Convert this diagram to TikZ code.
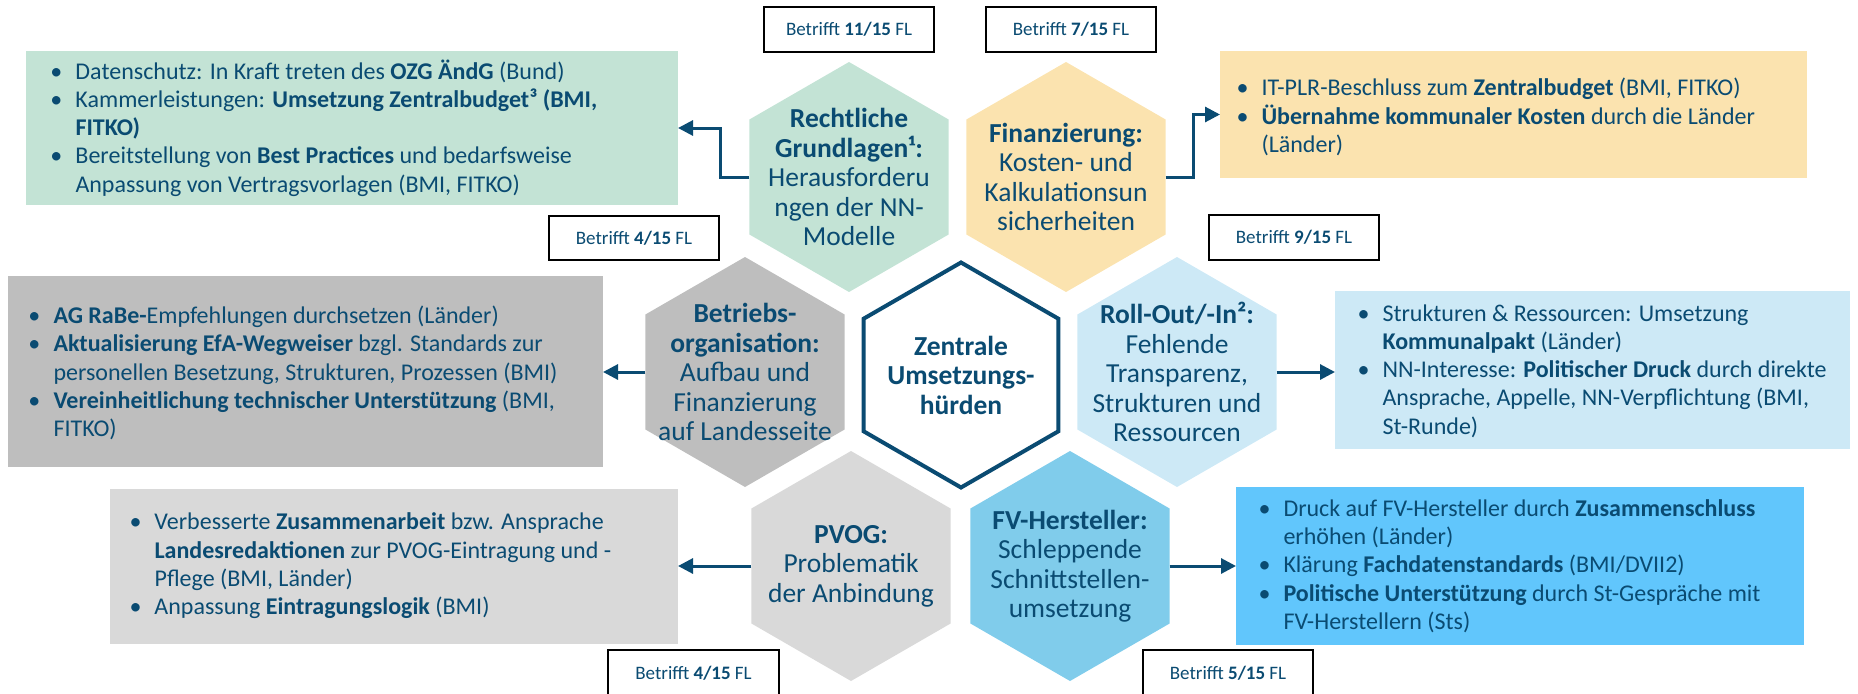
\documentclass[tikz,border=0pt]{standalone}
\usepackage{fontspec}
\setmainfont{Carlito}
\usetikzlibrary{shapes.geometric,arrows.meta,fit,shadows}

\definecolor{ink}{HTML}{0A4B72}
\definecolor{cgreen}{HTML}{C3E3D5}
\definecolor{cyellow}{HTML}{FBE3AF}
\definecolor{cgrayd}{HTML}{BEBEBE}
\definecolor{cgrayl}{HTML}{D9D9D9}
\definecolor{cblueL}{HTML}{CDE9F6}
\definecolor{cblueM}{HTML}{80CCEB}
\definecolor{cblueB}{HTML}{61C6FC}

% bullet with fixed column width, and matching indent for wrapped lines
\newcommand{\bul}{\makebox[10pt][l]{\textbullet}}
\newcommand{\ind}{\hspace*{10pt}}

\begin{document}
\begin{tikzpicture}[x=0.4pt,y=-0.4pt,
  hexa/.style={regular polygon, regular polygon sides=6, shape border rotate=30,
    minimum size=92pt, inner sep=0pt, outer sep=0pt},
  hextext/.style={align=center, text=ink, inner sep=0pt,
    font=\fontsize{11}{11.8}\selectfont},
  panel/.style={inner sep=0pt, outer sep=0pt, draw=none},
  paneltext/.style={anchor=west, align=left, text=ink, inner sep=0pt,
    font=\fontsize{9.6}{11.3}\selectfont},
  tag/.style={draw=black, line width=0.6pt, fill=white, inner sep=0pt, outer sep=0pt,
    drop shadow={shadow xshift=0.5pt, shadow yshift=-0.5pt, fill=black!35, opacity=1}},
  tagtext/.style={text=ink, inner sep=0pt, font=\fontsize{7.6}{9}\selectfont},
  conn/.style={draw=ink, line width=1.2pt, -{Triangle[length=6pt,width=6pt]}}
]
\useasboundingbox (0,0) rectangle (1858,693);
\clip (0,0) rectangle (1858,693);

% ---------- hexagons ----------
\node[hexa, fill=cgreen]  (hR)  at (849,177) {};
\node[hexa, fill=cyellow] (hF)  at (1066,177) {};
\node[hexa, fill=cgrayd]  (hB)  at (745,372) {};
\node[hexa, fill=white, draw=ink, line width=1.6pt, minimum size=90pt] (hC) at (961,375) {};
\node[hexa, fill=cblueL]  (hRo) at (1177,372) {};
\node[hexa, fill=cgrayl]  (hP)  at (851,566) {};
\node[hexa, fill=cblueM]  (hFV) at (1070,566) {};

\node[hextext] (tR) at (hR) {\textbf{Rechtliche}\\\textbf{Grundlagen¹:}\\Herausforderu\\ngen der NN-\\Modelle};
\node[hextext] (tF) at (hF) {\textbf{Finanzierung:}\\Kosten- und\\Kalkulationsun\\sicherheiten};
\node[hextext] (tB) at (hB) {\textbf{Betriebs-}\\\textbf{organisation:}\\Aufbau und\\Finanzierung\\auf Landesseite};
\node[hextext] (tC) at (hC) {\textbf{Zentrale}\\\textbf{Umsetzungs-}\\\textbf{hürden}};
\node[hextext] (tRo) at (hRo) {\textbf{Roll-Out/-In²:}\\Fehlende\\Transparenz,\\Strukturen und\\Ressourcen};
\node[hextext] (tP) at (hP) {\textbf{PVOG:}\\Problematik\\der Anbindung};
\node[hextext] (tFV) at (hFV) {\textbf{FV-Hersteller:}\\Schleppende\\Schnittstellen-\\umsetzung};

% ---------- measure panels ----------
\node[panel, fill=cgreen,  fit={(26,51) (678,205)}]    (pR)  {};
\node[panel, fill=cyellow, fit={(1220,51) (1807,178)}] (pF)  {};
\node[panel, fill=cgrayd,  fit={(8,276) (603,467)}]    (pB)  {};
\node[panel, fill=cblueL,  fit={(1335,291) (1850,449)}] (pRo) {};
\node[panel, fill=cgrayl,  fit={(110,489) (678,644)}]  (pP)  {};
\node[panel, fill=cblueB,  fit={(1236,487) (1804,645)}] (pFV) {};

\node[paneltext] (xR) at (50,128) {%
\bul Datenschutz: In Kraft treten des \textbf{OZG ÄndG} (Bund)\\
\bul Kammerleistungen: \textbf{Umsetzung Zentralbudget³ (BMI,}\\
\ind\textbf{FITKO)}\\
\bul Bereitstellung von \textbf{Best Practices} und bedarfsweise\\
\ind Anpassung von Vertragsvorlagen (BMI, FITKO)};

\node[paneltext] (xF) at (1236,117) {%
\bul IT-PLR-Beschluss zum \textbf{Zentralbudget} (BMI, FITKO)\\
\bul \textbf{Übernahme kommunaler Kosten} durch die Länder\\
\ind (Länder)};

\node[paneltext] (xB) at (28,373) {%
\bul \textbf{AG RaBe-}Empfehlungen durchsetzen (Länder)\\
\bul \textbf{Aktualisierung EfA-Wegweiser} bzgl. Standards zur\\
\ind personellen Besetzung, Strukturen, Prozessen (BMI)\\
\bul \textbf{Vereinheitlichung technischer Unterstützung} (BMI,\\
\ind FITKO)};

\node[paneltext] (xRo) at (1357,371) {%
\bul Strukturen \& Ressourcen: Umsetzung\\
\ind\textbf{Kommunalpakt} (Länder)\\
\bul NN-Interesse: \textbf{Politischer Druck} durch direkte\\
\ind Ansprache, Appelle, NN-Verpflichtung (BMI,\\
\ind St-Runde)};

\node[paneltext] (xP) at (129,566) {%
\bul Verbesserte \textbf{Zusammenarbeit} bzw. Ansprache\\
\ind\textbf{Landesredaktionen} zur PVOG-Eintragung und -\\
\ind Pflege (BMI, Länder)\\
\bul Anpassung \textbf{Eintragungslogik} (BMI)};

\node[paneltext] (xFV) at (1258,566) {%
\bul Druck auf FV-Hersteller durch \textbf{Zusammenschluss}\\
\ind erhöhen (Länder)\\
\bul Klärung \textbf{Fachdatenstandards} (BMI/DVII2)\\
\bul \textbf{Politische Unterstützung} durch St-Gespräche mit\\
\ind FV-Herstellern (Sts)};

% ---------- "Betrifft" tags ----------
\node[tag, fit={(764,7) (934,52)}]    (g1) {};
\node[tag, fit={(986,7) (1156,52)}]   (g2) {};
\node[tag, fit={(549,216) (719,260)}] (g3) {};
\node[tag, fit={(1209,215) (1379,260)}] (g4) {};
\node[tag, fit={(608,650) (779,712)}] (g5) {};
\node[tag, fit={(1143,650) (1313,712)}] (g6) {};

\node[tagtext] (l1) at (g1) {Betrifft \textbf{11/15} FL};
\node[tagtext] (l2) at (g2) {Betrifft \textbf{7/15} FL};
\node[tagtext] (l3) at (g3) {Betrifft \textbf{4/15} FL};
\node[tagtext] (l4) at (g4) {Betrifft \textbf{9/15} FL};
\node[tagtext] (l5) at (693.5,673) {Betrifft \textbf{4/15} FL};
\node[tagtext] (l6) at (1228,673) {Betrifft \textbf{5/15} FL};

% ---------- connectors ----------
\draw[conn] (hR.180) -- ++(-29,0) |- (pR.east);
\draw[conn] (hF.0) -- ++(28,0) |- (pF.west);
\draw[conn] (hB.180) -- (hB.180 -| pB.east);
\draw[conn] (hRo.0) -- (hRo.0 -| pRo.west);
\draw[conn] (hP.180) -- (hP.180 -| pP.east);
\draw[conn] (hFV.0) -- (hFV.0 -| pFV.west);
\end{tikzpicture}
\end{document}
